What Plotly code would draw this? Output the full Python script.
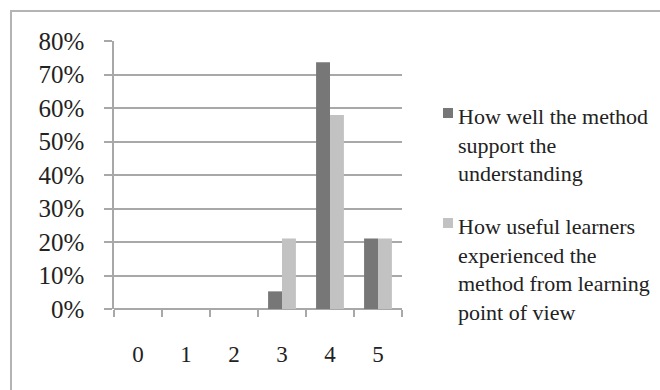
import plotly.graph_objects as go

# Ratings 0-5 and the share of learners choosing each one
ratings = ["0", "1", "2", "3", "4", "5"]
support_share = [0.0, 0.0, 0.0, 1 / 19, 14 / 19, 4 / 19]
useful_share = [0.0, 0.0, 0.0, 4 / 19, 11 / 19, 4 / 19]
series_names = [
    "How well the method<br>support the<br>understanding",
    "How useful learners<br>experienced the<br>method from learning<br>point of view",
]
y_ticks = [0, 0.1, 0.2, 0.3, 0.4, 0.5, 0.6, 0.7, 0.8]
y_tick_text = ["0%", "10%", "20%", "30%", "40%", "50%", "60%", "70%", "80%"]

DARK = "#777777"
LIGHT = "#c2c2c2"
GRID = "#a8a8a8"
FONT = "Liberation Serif"
TEXT = "#222222"

fig = go.Figure()
fig.add_trace(go.Bar(x=ratings, y=support_share, name=series_names[0],
                     marker=dict(color=DARK, line_width=0), showlegend=False))
fig.add_trace(go.Bar(x=ratings, y=useful_share, name=series_names[1],
                     marker=dict(color=LIGHT, line_width=0), showlegend=False))

# plot area in pixels, and helpers to place things in paper coordinates
L, R, T, B = 114, 402, 41, 309
pw, ph = R - L, B - T
def px(x):
    return (x - L) / pw
def py(y):
    return (B - y) / ph

# outer chart border (runs past the right and bottom edges)
fig.add_shape(type="rect", xref="paper", yref="paper",
              x0=px(11), x1=px(700), y0=py(11), y1=py(420),
              line=dict(color="#b4b4b4", width=2), layer="below")

# legend: small swatch plus wrapped label for each series
legend_tops = [108, 218]
for name, col, top in zip(series_names, [DARK, LIGHT], legend_tops):
    fig.add_shape(type="rect", xref="paper", yref="paper",
                  x0=px(443), x1=px(453), y0=py(top), y1=py(top + 10),
                  fillcolor=col, line_width=0)
    fig.add_annotation(text=name, xref="paper", yref="paper",
                       x=px(456), y=py(top - 6), xanchor="left", yanchor="top",
                       align="left", showarrow=False,
                       font=dict(family=FONT, size=22, color=TEXT))

fig.update_layout(
    width=660, height=390,
    margin=dict(l=L, r=660 - R, t=T, b=390 - B, autoexpand=False),
    paper_bgcolor="white", plot_bgcolor="white",
    barmode="group", bargap=0.42, bargroupgap=0,
    font=dict(family=FONT, color=TEXT),
    showlegend=False,
)
fig.update_xaxes(
    type="category", tickson="boundaries", ticks="outside", ticklen=7,
    tickcolor=GRID, tickwidth=1.5, showgrid=False, showline=False,
    tickfont=dict(size=23, family=FONT, color=TEXT), ticklabelstandoff=29,
    range=[-0.5, 5.5], zeroline=False,
)
fig.update_yaxes(
    range=[0, 0.8], tickvals=y_ticks, ticktext=y_tick_text,
    ticks="outside", ticklen=8, tickcolor=GRID, tickwidth=1.5,
    showgrid=True, gridcolor=GRID, gridwidth=1.5,
    showline=True, linecolor=GRID, linewidth=1.5,
    zeroline=True, zerolinecolor=GRID, zerolinewidth=1.5,
    tickfont=dict(size=25, family=FONT, color=TEXT), ticklabelstandoff=15,
)

fig.write_html("out.html")
